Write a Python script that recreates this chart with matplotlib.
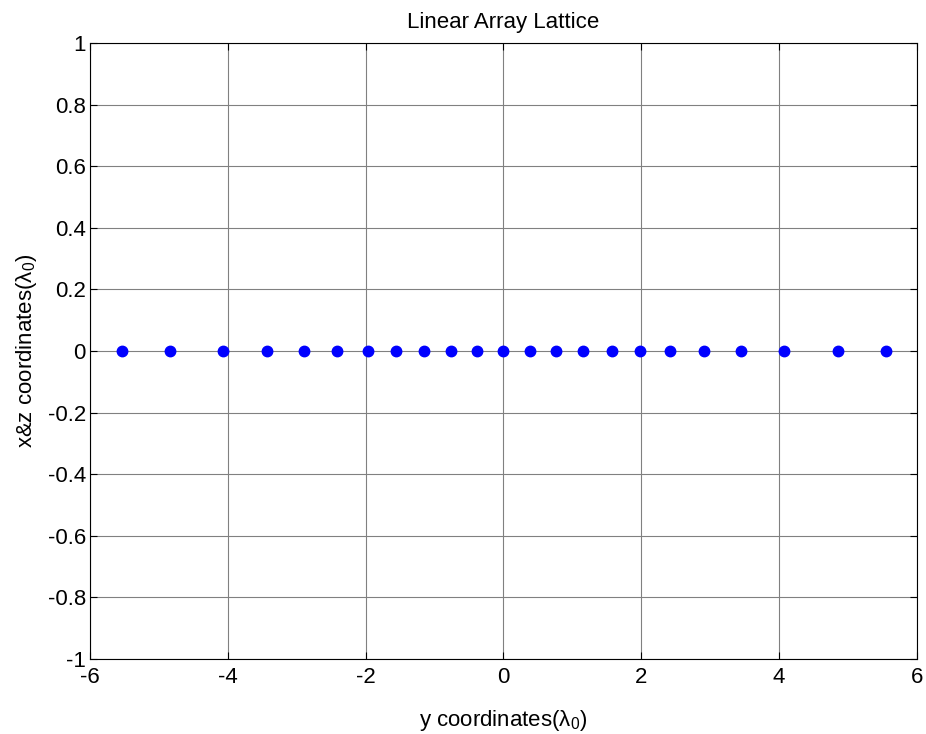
import matplotlib.pyplot as plt
import numpy as np

plt.rcParams['font.family'] = ['Liberation Sans', 'DejaVu Sans']
plt.rcParams['axes.unicode_minus'] = False
plt.rcParams['mathtext.fontset'] = 'custom'
plt.rcParams['mathtext.rm'] = 'Liberation Sans'
plt.rcParams['mathtext.it'] = 'Liberation Sans'

# element positions along y (in wavelengths)
y_pos = [-5.54, -4.84, -4.07, -3.43, -2.90, -2.42, -1.97, -1.56, -1.16, -0.76, -0.38,
         0.0, 0.38, 0.76, 1.16, 1.57, 1.98, 2.42, 2.91, 3.44, 4.07, 4.85, 5.55]
xz_pos = [0.0] * len(y_pos)

x_ticks = [-6, -4, -2, 0, 2, 4, 6]
y_ticks = [-1, -0.8, -0.6, -0.4, -0.2, 0, 0.2, 0.4, 0.6, 0.8, 1]
y_ticklabels = ['-1', '-0.8', '-0.6', '-0.4', '-0.2', '0', '0.2', '0.4', '0.6', '0.8', '1']

fig = plt.figure(figsize=(9.26, 7.34), dpi=100)
ax = fig.add_axes([0.0972, 0.1022, 0.893, 0.839])

ax.plot(y_pos, xz_pos, 'o', color='#0000ff', markersize=7.5, zorder=3)

ax.set_xlim(-6, 6)
ax.set_ylim(-1, 1)
ax.set_xticks(x_ticks)
ax.set_yticks(y_ticks)
ax.set_yticklabels(y_ticklabels)
ax.grid(True, color='#808080', linewidth=0.8)
ax.tick_params(direction='in', labelsize=16, length=5, width=0.8, top=True, right=True,
               labeltop=False, labelright=False)
ax.tick_params(axis='x', pad=6)
ax.tick_params(axis='y', pad=3)
for s in ax.spines.values():
    s.set_linewidth(0.8)

ax.set_title('Linear Array Lattice', fontsize=16, pad=11)
ax.set_xlabel('y coordinates(λ$_0$)', fontsize=16, labelpad=14)
ax.set_ylabel('x&z coordinates(λ$_0$)', fontsize=16, labelpad=6)

fig.savefig('out.png', dpi=100)
